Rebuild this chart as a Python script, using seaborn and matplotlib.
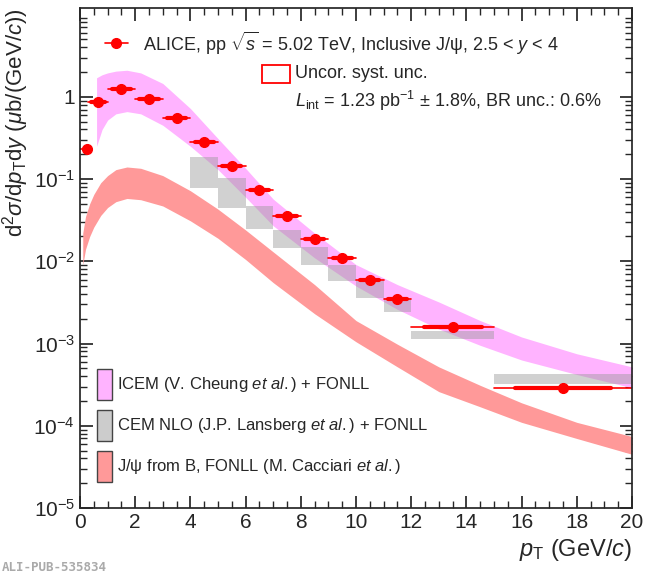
import numpy as np
import matplotlib
matplotlib.use("Agg")
import matplotlib.pyplot as plt
import seaborn as sns
from matplotlib.patches import Rectangle
from matplotlib.ticker import FixedLocator, FixedFormatter

sns.set_theme(style="ticks")
plt.rcParams['font.family'] = ['Liberation Sans', 'DejaVu Sans']
plt.rcParams['mathtext.fontset'] = 'custom'
plt.rcParams['mathtext.rm'] = 'Liberation Sans'
plt.rcParams['mathtext.it'] = 'Liberation Sans:italic'

# ALICE data
pt = [0.25, 0.65, 1.5, 2.5, 3.5, 4.5, 5.5, 6.5, 7.5, 8.5, 9.5, 10.5, 11.5, 13.5, 17.5]
pt_lo = [0.0, 0.3, 1, 2, 3, 4, 5, 6, 7, 8, 9, 10, 11, 12, 15]
pt_hi = [0.3, 1, 2, 3, 4, 5, 6, 7, 8, 9, 10, 11, 12, 15, 20]
xsec = [0.23, 0.86, 1.25, 0.95, 0.55, 0.28, 0.145, 0.074, 0.036, 0.0185,
        0.011, 0.0059, 0.0035, 0.0016, 0.00029]

# CEM NLO + FONLL boxes
cem_lo = [4, 5, 6, 7, 8, 9, 10, 11, 12, 15]
cem_hi = [5, 6, 7, 8, 9, 10, 11, 12, 15, 20]
cem_top = [0.186, 0.102, 0.047, 0.024, 0.0148, 0.0089, 0.0057, 0.0036, 0.0014, 0.00042]
cem_bot = [0.078, 0.045, 0.025, 0.0144, 0.0091, 0.0057, 0.0036, 0.0024, 0.00112, 0.00032]

# ICEM + FONLL band
icem_x = [0.6, 0.8, 1.0, 1.3, 1.7, 2.2, 3.0, 4.0, 5.0, 6.0, 7.0, 8.5, 10.0, 11.5, 13.0, 14.5, 16.0, 18.0, 20.0]
icem_up = [1.7, 1.85, 1.95, 2.05, 2.1, 1.95, 1.45, 0.72, 0.31, 0.135, 0.057, 0.022, 0.0091, 0.0052,
           0.0032, 0.0019, 0.0012, 0.00075, 0.00052]
icem_dn = [0.25, 0.40, 0.52, 0.62, 0.66, 0.62, 0.45, 0.25, 0.13, 0.06, 0.027, 0.011, 0.005, 0.0026,
           0.0015, 0.00095, 0.00063, 0.00042, 0.00029]

# J/psi from B, FONLL band
b_x = [0.1, 0.2, 0.35, 0.5, 0.75, 1.0, 1.3, 1.7, 2.2, 3.0, 4.0, 5.0, 6.0, 7.0, 8.5, 10.0,
       11.5, 13.0, 14.5, 16.0, 18.0, 20.0]
b_up = [0.022, 0.035, 0.05, 0.065, 0.09, 0.11, 0.13, 0.14, 0.135, 0.11, 0.072, 0.043, 0.024,
        0.013, 0.0052, 0.0019, 0.00098, 0.00052, 0.00031, 0.00019, 0.00011, 7.4e-5]
b_dn = [0.009, 0.014, 0.02, 0.026, 0.036, 0.045, 0.053, 0.058, 0.056, 0.047, 0.031, 0.019,
        0.0105, 0.0055, 0.0023, 0.00105, 0.00052, 0.00026, 0.00017, 0.00011, 7e-5, 4.5e-5]

fig = plt.figure(figsize=(6.5, 5.78), dpi=100)
ax = fig.add_axes([80/650, 70/578, 552/650, 500/578])

ax.fill_between(icem_x, icem_dn, icem_up, color='#ffb3ff', lw=0)
ax.fill_between(b_x, b_dn, b_up, color='#ff9999', lw=0)
for lo, hi, t, b in zip(cem_lo, cem_hi, cem_top, cem_bot):
    ax.add_patch(Rectangle((lo, b), hi - lo, t - b, color='#999999', alpha=0.45, lw=0))

for x, lo, hi, y in zip(pt, pt_lo, pt_hi, xsec):
    ax.plot([lo, hi], [y, y], color='red', lw=1.2)
    w = 0.35 * (hi - lo)
    ax.plot([x - w, x + w], [y, y], color='red', lw=3)
ax.plot(pt, xsec, 'o', color='red', ms=7)

ax.set_yscale('log')
ax.set_xlim(0, 20)
ax.set_ylim(1e-5, 12)
ax.yaxis.set_major_locator(FixedLocator([1e-5, 1e-4, 1e-3, 1e-2, 1e-1, 1]))
ax.yaxis.set_major_formatter(FixedFormatter(['$10^{-5}$', '$10^{-4}$', '$10^{-3}$',
                                             '$10^{-2}$', '$10^{-1}$', '1']))
ax.set_xticks(range(0, 21, 2))
ax.set_xticks(np.arange(0, 20.1, 0.5), minor=True)
ax.tick_params(which='both', direction='in', top=True, right=True, labelsize=15)
ax.tick_params(which='major', length=9)
ax.tick_params(which='minor', length=5)
ax.set_xlabel(r'$\it{p}_{\rm T}$ (GeV/$\it{c}$)', fontsize=17, loc='right')
ax.set_ylabel(r'd$^2\sigma$/d$\it{p}_{\rm T}$d$\it{y}$ ($\mu$b/(GeV/$\it{c}$))', fontsize=16,
              loc='top', labelpad=2)

# legends
ax.plot([0.9, 1.75], [4.5, 4.5], color='red', lw=1.2)
ax.plot(1.3, 4.5, 'o', color='red', ms=7)
ax.text(2.3, 4.5, r'ALICE, pp $\sqrt{\it{s}}$ = 5.02 TeV, Inclusive J/$\mathrm{\psi}$, 2.5 < $\it{y}$ < 4',
        fontsize=13, va='center')
ax.add_patch(Rectangle((6.6, 1.45), 1.0, 0.95, fill=False, ec='red', lw=1.3))
ax.text(7.8, 1.9, 'Uncor. syst. unc.', fontsize=13, va='center')
ax.text(7.8, 0.88, r'$\it{L}_{\rm int}$ = 1.23 pb$^{-1}$ $\pm$ 1.8%, BR unc.: 0.6%',
        fontsize=13, va='center')

leg = [('#ffb3ff', r'ICEM (V. Cheung $\it{et\ al.}$) + FONLL', 3.2e-4),
       ('#cccccc', r'CEM NLO (J.P. Lansberg $\it{et\ al.}$) + FONLL', 1.0e-4),
       ('#ff9999', r'J/$\mathrm{\psi}$ from B, FONLL (M. Cacciari $\it{et\ al.}$)', 3.2e-5)]
for c, lab, y in leg:
    ax.add_patch(Rectangle((0.6, y / 1.55), 0.55, y * 1.55 - y / 1.55, fc=c, ec='#444444', lw=1))
    ax.text(1.35, y, lab, fontsize=12, va='center')

fig.text(0.003, 0.012, 'ALI-PUB-535834', fontsize=9, color='#aaaaaa',
         family='DejaVu Sans Mono', weight='bold')

fig.savefig('out.png', dpi=100)
